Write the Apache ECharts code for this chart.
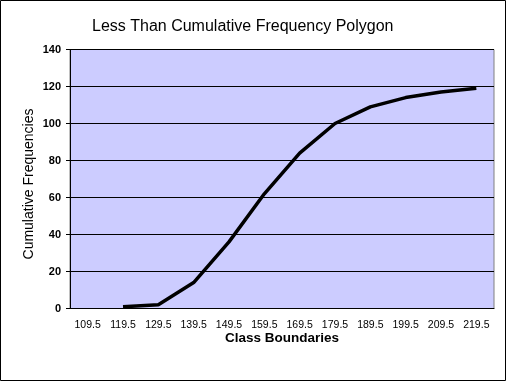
<!DOCTYPE html>
<html>
<head>
<meta charset="utf-8">
<script src="https://cdn.jsdelivr.net/npm/echarts@6/dist/echarts.min.js"></script>
<style>
html,body{margin:0;padding:0;background:#fff;}
#chart{width:506px;height:381px;}
</style>
</head>
<body>
<div id="chart"></div>
<script>
const titleText = 'Less Than Cumulative Frequency Polygon';
const xAxisName = 'Class Boundaries';
const yAxisName = 'Cumulative Frequencies';
const classBoundaries = ['109.5','119.5','129.5','139.5','149.5','159.5','169.5','179.5','189.5','199.5','209.5','219.5'];
const cumulativeFrequencies = [null, 1, 2, 14, 36, 62, 84, 100, 109, 114, 117, 119];
const yMin = 0, yMax = 140, yStep = 20;

const font = '"Liberation Sans", Arial, sans-serif';
const chart = echarts.init(document.getElementById('chart'), null, {renderer: 'canvas'});
chart.setOption({
  animation: false,
  backgroundColor: '#ffffff',
  textStyle: {fontFamily: font},
  title: {
    text: titleText,
    left: 92, top: 19, padding: 0,
    textStyle: {fontFamily: font, fontSize: 16, fontWeight: 'normal', color: '#000'}
  },
  grid: {
    left: 70, right: 12, top: 49.5, bottom: 72.5,
    show: true, backgroundColor: '#CCCCFF', borderColor: '#808080', borderWidth: 1,
    containLabel: false
  },
  xAxis: {
    type: 'category',
    data: classBoundaries,
    boundaryGap: true,
    name: xAxisName,
    nameLocation: 'middle',
    nameGap: 23,
    nameMoveOverlap: false,
    nameTextStyle: {fontFamily: font, fontSize: 13.5, fontWeight: 'bold', color: '#000'},
    axisLine: {show: true, lineStyle: {color: '#000', width: 1}},
    axisTick: {show: false},
    axisLabel: {color: '#000', fontSize: 10.5, fontFamily: font, margin: 11, interval: 0},
    splitLine: {show: false}
  },
  yAxis: {
    type: 'value',
    min: yMin, max: yMax, interval: yStep,
    name: yAxisName,
    nameLocation: 'middle',
    nameRotate: 90,
    nameGap: 34,
    nameMoveOverlap: false,
    nameTextStyle: {fontFamily: font, fontSize: 14, fontWeight: 'normal', color: '#000', padding: [0, 10, 0, 0]},
    axisLine: {show: true, lineStyle: {color: '#000', width: 1}},
    axisTick: {show: true, length: 4, inside: false, lineStyle: {color: '#000'}},
    axisLabel: {color: '#000', fontSize: 11, fontWeight: 'bold', fontFamily: font, margin: 9},
    splitLine: {show: true, lineStyle: {color: '#000', width: 1}}
  },
  series: [{
    type: 'line',
    data: cumulativeFrequencies,
    symbol: 'none',
    connectNulls: false,
    lineStyle: {color: '#000', width: 3.5},
    itemStyle: {color: '#000'}
  }],
  graphic: [{
    type: 'rect',
    shape: {x: 0.5, y: 0.5, width: 505, height: 380},
    style: {fill: 'none', stroke: '#000', lineWidth: 1},
    silent: true
  }]
});
</script>
</body>
</html>
